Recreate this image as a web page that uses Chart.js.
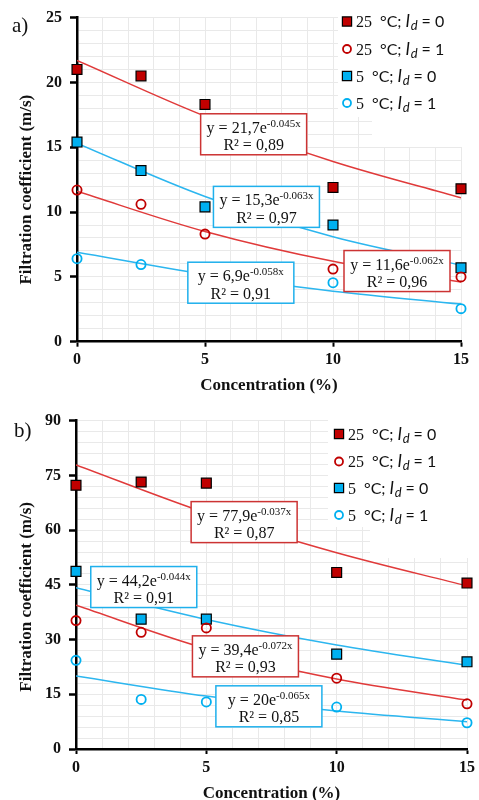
<!DOCTYPE html>
<html>
<head>
<meta charset="utf-8">
<title>Filtration coefficient vs concentration</title>
<script src="https://cdn.jsdelivr.net/npm/chart.js@4.4.0/dist/chart.umd.min.js"></script>
<style>
  html, body { margin: 0; padding: 0; background: #fff; }
  .panel { position: absolute; left: 0; width: 479px; height: 400px; }
</style>
</head>
<body>
<div class="panel" style="top:0"><canvas id="chartA" width="479" height="400"></canvas></div>
<div class="panel" style="top:400px"><canvas id="chartB" width="479" height="400"></canvas></div>
<script>
// x values of the measurements and of the read-off trend curves
const concentrations = [0, 2.5, 5, 10, 15];
const trendX = [0, 5, 10, 15];

// legend labels
const seriesTemps = ['25', '25', '5', '5'];
const seriesId = ['0', '1', '0', '1'];

// panel a) measured points
const aHotId0 = [21.0, 20.5, 18.3, 11.9, 11.8];
const aHotId1 = [11.7, 10.6, 8.3, 5.6, 5.0];
const aColdId0 = [15.4, 13.2, 10.4, 9.0, 5.7];
const aColdId1 = [6.4, 5.95, 5.0, 4.55, 2.55];
// panel a) trend curves read at trendX
const aHotId0Trend = [21.7, 17.4, 13.9, 11.1];
const aHotId1Trend = [11.6, 8.5, 6.2, 4.6];
const aColdId0Trend = [15.3, 11.2, 8.1, 5.9];
const aColdId1Trend = [6.9, 5.2, 3.9, 2.9];
const aEquations = ['21,7e|-0.045x', '11,6e|-0.062x', '15,3e|-0.063x', '6,9e|-0.058x'];
const aR2 = ['0,89', '0,96', '0,97', '0,91'];

// panel b) measured points
const bHotId0 = [72.3, 73.2, 72.9, 48.4, 45.5];
const bHotId1 = [35.2, 32.0, 33.2, 19.4, 12.4];
const bColdId0 = [48.7, 35.6, 35.6, 26.0, 23.9];
const bColdId1 = [24.3, 13.6, 12.9, 11.5, 7.2];
// panel b) trend curves read at trendX
const bHotId0Trend = [77.9, 64.7, 53.8, 44.7];
const bHotId1Trend = [39.4, 27.5, 19.2, 13.4];
const bColdId0Trend = [44.2, 35.5, 28.5, 22.9];
const bColdId1Trend = [20.0, 14.5, 10.4, 7.5];
const bEquations = ['77,9e|-0.037x', '39,4e|-0.072x', '44,2e|-0.044x', '20e|-0.065x'];
const bR2 = ['0,87', '0,93', '0,91', '0,85'];

const RED = '#c00000';
const RED_LINE = '#e03a3a';
const BLUE = '#00b0f0';
const BLUE_LINE = '#2cb6ef';
const SERIF = '"Liberation Serif", "Times New Roman", serif';
const SANS = 'Lato, "Liberation Sans", sans-serif';

const toPoints = (xs, ys) => xs.map((x, i) => ({ x: x, y: ys[i] }));

// marker styles, in legend order
const markerStyles = [
  { pointStyle: 'rect', pointRadius: 7, backgroundColor: RED, borderColor: '#000', borderWidth: 1.2 },
  { pointStyle: 'circle', pointRadius: 4.6, backgroundColor: 'rgba(255,255,255,0)', borderColor: RED, borderWidth: 1.8 },
  { pointStyle: 'rect', pointRadius: 7, backgroundColor: BLUE, borderColor: '#000', borderWidth: 1.2 },
  { pointStyle: 'circle', pointRadius: 4.6, backgroundColor: 'rgba(255,255,255,0)', borderColor: BLUE, borderWidth: 1.8 }
];
const lineColors = [RED_LINE, RED_LINE, BLUE_LINE, BLUE_LINE];

function drawMarker(ctx, style, x, y) {
  ctx.save();
  ctx.lineWidth = style.borderWidth;
  ctx.strokeStyle = style.borderColor;
  ctx.fillStyle = style.backgroundColor;
  ctx.beginPath();
  if (style.pointStyle === 'rect') {
    ctx.rect(x - 4.6, y - 4.6, 9.2, 9.2);
  } else {
    ctx.arc(x, y, 4, 0, Math.PI * 2);
  }
  ctx.fill();
  ctx.stroke();
  ctx.restore();
}

function drawLegendEntry(ctx, x, y, temp, idVal) {
  const base = y + 5.5;
  ctx.fillStyle = '#111';
  ctx.textAlign = 'left';
  ctx.textBaseline = 'alphabetic';
  ctx.font = '16px ' + SERIF;
  ctx.fillText(temp, x, base);
  let cx = x + ctx.measureText(temp).width + 8;
  ctx.font = '16px ' + SANS;
  ctx.fillText('°C; ', cx, base);
  cx += ctx.measureText('°C; ').width;
  ctx.font = 'italic 17px ' + SANS;
  ctx.fillText('I', cx, base);
  cx += ctx.measureText('I').width + 0.5;
  ctx.font = 'italic 13px ' + SANS;
  ctx.fillText('d', cx, base + 3);
  cx += ctx.measureText('d').width;
  ctx.font = '16px ' + SANS;
  ctx.fillText(' = ' + idVal, cx, base);
}

function drawTrendBox(ctx, cx, cy, equation, r2, color) {
  const w = 106, h = 41;
  ctx.save();
  ctx.fillStyle = '#fff';
  ctx.fillRect(cx - w / 2, cy - h / 2, w, h);
  ctx.lineWidth = 1.5;
  ctx.strokeStyle = color;
  ctx.strokeRect(cx - w / 2, cy - h / 2, w, h);

  const parts = equation.split('|');
  const main = 'y = ' + parts[0];
  ctx.fillStyle = '#111';
  ctx.textBaseline = 'alphabetic';
  ctx.textAlign = 'left';
  ctx.font = '16px ' + SERIF;
  const mainW = ctx.measureText(main).width;
  ctx.font = '11px ' + SERIF;
  const supW = ctx.measureText(parts[1]).width;
  const startX = cx - (mainW + supW) / 2;
  ctx.font = '16px ' + SERIF;
  ctx.fillText(main, startX, cy - 1.5);
  ctx.font = '11px ' + SERIF;
  ctx.fillText(parts[1], startX + mainW, cy - 7.5);

  ctx.font = '16px ' + SERIF;
  ctx.textAlign = 'center';
  ctx.fillText('R² = ' + r2, cx, cy + 16);
  ctx.restore();
}

const overlayPlugin = {
  id: 'overlay',
  afterDatasetsDraw(chart, args, opts) {
    const ctx = chart.ctx;
    const xs = chart.scales.x;
    const ys = chart.scales.y;
    const area = chart.chartArea;
    ctx.save();

    // white legend background over the grid
    ctx.fillStyle = '#fff';
    opts.legendBg.forEach(r => ctx.fillRect(r[0], r[1], r[2], r[3]));

    opts.legendY.forEach((ly, i) => {
      drawMarker(ctx, markerStyles[i], opts.legendX, ly);
      drawLegendEntry(ctx, opts.legendX + 9, ly, seriesTemps[i], seriesId[i]);
    });

    opts.boxes.forEach(b => {
      drawTrendBox(ctx, xs.getPixelForValue(b.x), ys.getPixelForValue(b.y), b.equation, b.r2, b.color);
    });

    // y axis title, sits a little below the middle of the plot
    ctx.save();
    ctx.translate(27, (area.top + area.bottom) / 2 + opts.yTitleShift);
    ctx.rotate(-Math.PI / 2);
    ctx.fillStyle = '#111';
    ctx.font = 'bold 17px ' + SERIF;
    ctx.textAlign = 'center';
    ctx.textBaseline = 'middle';
    ctx.fillText('Filtration coefficient (m/s)', 0, 0);
    ctx.restore();

    ctx.fillStyle = '#111';
    ctx.font = '21px ' + SERIF;
    ctx.textAlign = 'left';
    ctx.textBaseline = 'alphabetic';
    ctx.fillText(opts.panelLabel, opts.panelPos[0], opts.panelPos[1]);
    ctx.restore();
  }
};

function buildChart(canvas, p) {
  const pointSets = p.points.map((vals, i) => Object.assign({
    data: toPoints(concentrations, vals),
    showLine: false,
    clip: false,
    order: 0
  }, markerStyles[i]));
  const trendSets = p.trends.map((vals, i) => ({
    data: toPoints(trendX, vals),
    showLine: true,
    borderColor: lineColors[i],
    borderWidth: 1.5,
    pointRadius: 0,
    cubicInterpolationMode: 'monotone',
    order: 1
  }));

  const tickFont = { family: SERIF, size: 16, weight: 'bold', lineHeight: 1.2 };
  const titleFont = { family: SERIF, size: 17, weight: 'bold', lineHeight: 1 };

  return new Chart(canvas, {
    type: 'scatter',
    data: { datasets: pointSets.concat(trendSets) },
    options: {
      responsive: false,
      animation: false,
      events: [],
      layout: { padding: p.padding },
      plugins: {
        legend: { display: false },
        tooltip: { enabled: false },
        overlay: p.overlay
      },
      scales: {
        x: {
          type: 'linear',
          min: 0,
          max: 15,
          afterFit: s => { s.height = p.xAxisHeight; },
          ticks: {
            stepSize: 1,
            autoSkip: false,
            maxRotation: 0,
            padding: 4,
            color: '#111',
            font: tickFont,
            callback: v => (v % 5 === 0 ? v : '')
          },
          grid: {
            color: '#e9e9e9',
            lineWidth: 1,
            tickLength: 5,
            tickWidth: 2,
            tickColor: c => (c.tick && c.tick.value % 5 === 0 ? '#000' : 'rgba(0,0,0,0)')
          },
          border: { color: '#000', width: 2.5 },
          title: {
            display: true,
            text: 'Concentration (%)',
            color: '#111',
            font: titleFont,
            padding: { top: 0, bottom: p.xTitlePad }
          }
        },
        y: {
          type: 'linear',
          min: 0,
          max: p.yMax,
          afterFit: s => { s.width = p.yAxisWidth; },
          ticks: {
            stepSize: p.yMinor,
            autoSkip: false,
            padding: 8,
            color: '#111',
            font: tickFont,
            callback: v => (v % p.yMajor === 0 ? v : '')
          },
          grid: {
            color: '#e9e9e9',
            lineWidth: 1,
            tickLength: 7,
            tickWidth: 2.5,
            tickColor: c => (c.tick && c.tick.value % p.yMajor === 0 ? '#000' : 'rgba(0,0,0,0)')
          },
          border: { color: '#000', width: 2.5 }
        }
      }
    },
    plugins: [overlayPlugin]
  });
}

buildChart(document.getElementById('chartA'), {
  points: [aHotId0, aHotId1, aColdId0, aColdId1],
  trends: [aHotId0Trend, aHotId1Trend, aColdId0Trend, aColdId1Trend],
  yMax: 25, yMinor: 1, yMajor: 5,
  padding: { top: 16, right: 18, bottom: 0, left: 0 },
  yAxisWidth: 77,
  xAxisHeight: 58.3,
  xTitlePad: 6,
  overlay: {
    panelLabel: 'a)',
    panelPos: [12, 32],
    yTitleShift: 10,
    legendX: 347,
    legendY: [21.5, 49, 76, 103],
    legendBg: [[338, 0, 141, 117], [372, 117, 107, 30]],
    boxes: [
      { x: 6.9, y: 16.0, equation: aEquations[0], r2: aR2[0], color: '#cc3333' },
      { x: 12.5, y: 5.45, equation: aEquations[1], r2: aR2[1], color: '#cc3333' },
      { x: 7.4, y: 10.4, equation: aEquations[2], r2: aR2[2], color: '#1fb0ec' },
      { x: 6.4, y: 4.55, equation: aEquations[3], r2: aR2[3], color: '#1fb0ec' }
    ]
  }
});

buildChart(document.getElementById('chartB'), {
  points: [bHotId0, bHotId1, bColdId0, bColdId1],
  trends: [bHotId0Trend, bHotId1Trend, bColdId0Trend, bColdId1Trend],
  yMax: 90, yMinor: 3, yMajor: 15,
  padding: { top: 20.7, right: 12, bottom: 0, left: 0 },
  yAxisWidth: 76,
  xAxisHeight: 51,
  xTitlePad: -2.5,
  overlay: {
    panelLabel: 'b)',
    panelPos: [14, 36.5],
    yTitleShift: 12,
    legendX: 339,
    legendY: [34, 61.5, 88, 115],
    legendBg: [[328, 0, 151, 127], [370, 127, 109, 31]],
    boxes: [
      { x: 6.45, y: 62.2, equation: bEquations[0], r2: bR2[0], color: '#cc3333' },
      { x: 6.5, y: 25.4, equation: bEquations[1], r2: bR2[1], color: '#cc3333' },
      { x: 2.6, y: 44.4, equation: bEquations[2], r2: bR2[2], color: '#1fb0ec' },
      { x: 7.4, y: 11.7, equation: bEquations[3], r2: bR2[3], color: '#1fb0ec' }
    ]
  }
});
</script>
</body>
</html>
